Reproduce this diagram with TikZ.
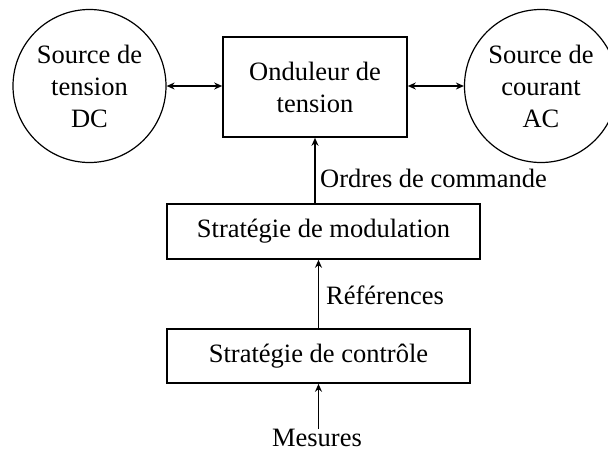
\documentclass[tikz,border=0pt]{standalone}
\usepackage{fontspec}
\setmainfont{Liberation Serif}
\usetikzlibrary{arrows.meta}
\begin{document}
\begin{tikzpicture}[x=1pt,y=-1pt,
  every node/.style={font=\fontsize{26.5}{32}\selectfont, inner sep=0pt},
  src/.style={circle, draw, line width=1.2pt, minimum size=153pt, align=center},
  blk/.style={rectangle, draw, line width=1.6pt, align=center},
  lbl/.style={anchor=west},
  arr/.style={line width=1.6pt, -{Stealth[length=8pt,width=7pt]}},
  darr/.style={line width=1.6pt, {Stealth[length=8pt,width=7pt]}-{Stealth[length=8pt,width=7pt]}}]
\useasboundingbox (0,0) rectangle (608,450);
\node[src] (dc) at (89.5,86) {Source de\\tension\\DC};
\node[src] (ac) at (541,86) {Source de\\courant\\AC};
\node[blk, minimum width=184pt, minimum height=100pt] (ond) at (315,87) {Onduleur de\\tension};
\node[blk, minimum width=313pt, minimum height=55pt] (mod) at (323.5,231.5) {Stratégie de modulation};
\node[blk, minimum width=303pt, minimum height=54pt] (ctl) at (318.5,356) {Stratégie de contrôle};
\node (mes) at (317,438) {Mesures};
\node[lbl] (ordres) at (320,178) {Ordres de commande};
\node[lbl] (refs) at (326,295) {Références};
\draw[darr] (dc.east) -- (dc.east -| ond.west);
\draw[darr] (ond.east |- ac.west) -- (ac.west);
\draw[arr] (ond.south |- mod.north) -- (ond.south);
\draw[arr] (ctl.north) -- (ctl.north |- mod.south);
\draw[arr] (ctl.south |- mes.north) -- (ctl.south);
\end{tikzpicture}
\end{document}
